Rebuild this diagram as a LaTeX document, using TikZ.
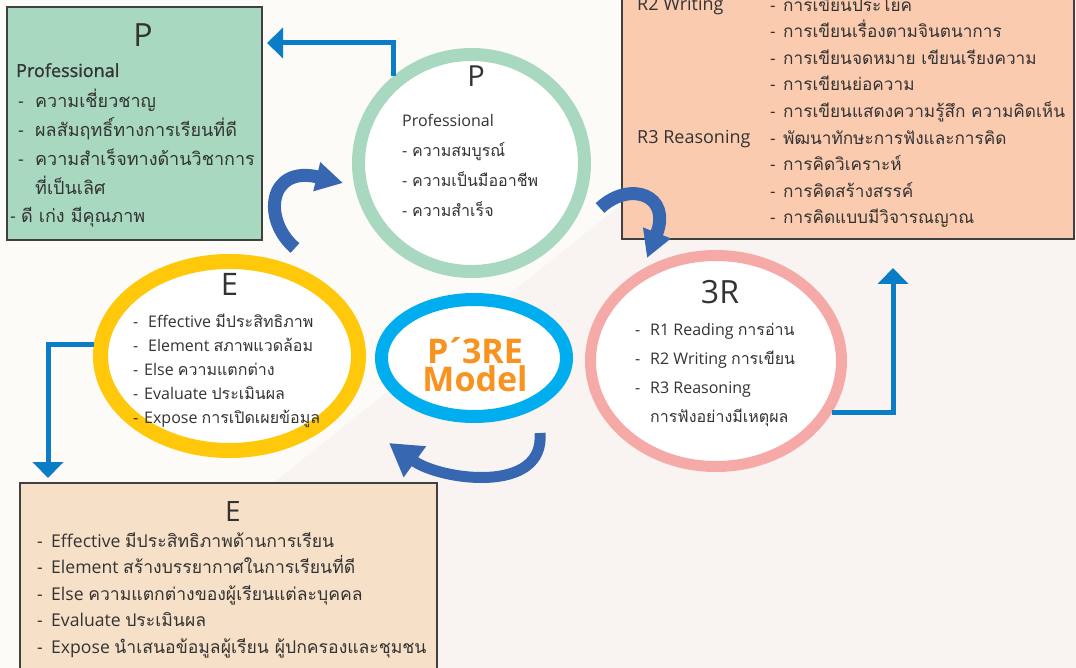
\documentclass[tikz,border=0pt]{standalone}
\usepackage{fontspec}
\setmainfont{Open Sans}
\newfontfamily\thaifont[Script=Thai]{Loma}
\newfontfamily\semifont[FakeBold=1.2]{Open Sans}
\usetikzlibrary{arrows.meta,shapes.geometric,positioning}

\definecolor{bgtop}{HTML}{FDFBF7}
\definecolor{bgbot}{HTML}{F9F4F1}
\definecolor{greenfill}{HTML}{A8D8C0}
\definecolor{peachfill}{HTML}{FBCBB0}
\definecolor{tanfill}{HTML}{F6E0C8}
\definecolor{ringgreen}{HTML}{A8D8C0}
\definecolor{ringyellow}{HTML}{FFC80B}
\definecolor{ringblue}{HTML}{00AEEF}
\definecolor{ringpink}{HTML}{F5AAA7}
\definecolor{flowblue}{HTML}{0A7DC6}
\definecolor{bendblue}{HTML}{3867B1}
\definecolor{modelorange}{HTML}{F7931E}
\definecolor{inkgray}{HTML}{333333}
\definecolor{boxline}{HTML}{404040}

\newcommand{\tha}[1]{{\thaifont #1}}
\newcommand{\itemdash}[1][17pt]{\makebox[#1][l]{-}}
\newcommand{\tightlines}{\lineskiplimit=-40pt\relax}

\tikzset{
  box/.style={draw=boxline, line width=1.4pt, inner sep=0pt},
  ring/.style={ellipse, fill=white, inner sep=0pt},
  headline/.style={anchor=base, inner sep=0pt, text=inkgray, font=\fontsize{#1}{#1}\selectfont},
  % lists are placed by the baseline of their last line
  listtext/.style 2 args={anchor=base west, align=left, inner sep=0pt, text=inkgray,
    font=\fontsize{#1}{#2}\selectfont\tightlines},
  flowarrow/.style={draw=flowblue, line width=5pt, -{Triangle[width=30pt,length=16pt]}},
  bendarrow/.style={draw=bendblue, line width=13pt, -{Triangle[width=28pt,length=27pt]}},
}

\begin{document}
\begin{tikzpicture}[x=1pt, y=-1pt]
  \useasboundingbox (0,0) rectangle (1076,668);
  % two soft background tones
  \fill[bgtop] (0,0) rectangle (1076,668);
  \fill[bgbot] (42,668) -- (877,0) -- (1076,0) -- (1076,668) -- cycle;

  % ---------------------------------------------------------------- boxes
  \node[box, fill=greenfill, minimum width=255pt, minimum height=233pt] (pbox) at (134.5,123.5) {};
  \node[box, fill=peachfill, minimum width=452pt, minimum height=259pt] (rbox) at (848,109.5) {};
  \node[box, fill=tanfill, minimum width=417pt, minimum height=217pt] (ebox) at (228.5,591.5) {};

  % ---------------------------------------------------------------- rings
  \node[ring, draw=ringgreen, line width=13pt, minimum width=226pt, minimum height=217pt] (pcirc) at (471.5,163) {};
  \node[ring, draw=ringyellow, line width=15pt, minimum width=258pt, minimum height=189pt] (eell) at (229.5,356) {};
  \node[ring, draw=ringblue, line width=13pt, minimum width=185pt, minimum height=117pt] (mell) at (474,358) {};
  \node[ring, draw=ringpink, line width=11pt, minimum width=251pt, minimum height=211pt] (rcirc) at (716,361) {};

  % ---------------------------------------------------------------- P box
  \node[headline=32] (pboxtitle) at (143,47) {P};
  \node[listtext={18}{28.8}] (pboxhead) at (16,77) {\semifont Professional};
  \node[listtext={18}{28.8}] (pboxlist) at (10,223) {%
    \hspace*{8pt}\itemdash\tha{ความเชี่ยวชาญ}\\
    \hspace*{8pt}\itemdash\tha{ผลสัมฤทธิ์ทางการเรียนที่ดี}\\
    \hspace*{8pt}\itemdash\tha{ความสำเร็จทางด้านวิชาการ}\\
    \hspace*{25pt}\tha{ที่เป็นเลิศ}\\
    \itemdash[11pt]\tha{ดี เก่ง มีคุณภาพ}};

  % ---------------------------------------------------------------- 3R box
  \node[listtext={18}{26.6}] (rboxw) at (637,11) {R2 Writing};
  \node[listtext={18}{26.6}] (rboxr) at (637,144) {R3 Reasoning};
  \node[listtext={17.2}{26.6}] (rboxlist) at (770,224) {%
    \itemdash[13pt]\tha{การเขียนประโยค}\\
    \itemdash[13pt]\tha{การเขียนเรื่องตามจินตนาการ}\\
    \itemdash[13pt]\tha{การเขียนจดหมาย เขียนเรียงความ}\\
    \itemdash[13pt]\tha{การเขียนย่อความ}\\
    \itemdash[13pt]\tha{การเขียนแสดงความรู้สึก ความคิดเห็น}\\
    \itemdash[13pt]\tha{พัฒนาทักษะการฟังและการคิด}\\
    \itemdash[13pt]\tha{การคิดวิเคราะห์}\\
    \itemdash[13pt]\tha{การคิดสร้างสรรค์}\\
    \itemdash[13pt]\tha{การคิดแบบมีวิจารณญาณ}};

  % ---------------------------------------------------------------- E box
  \node[headline=28] (eboxtitle) at (233,521) {E};
  \node[listtext={17.6}{26.5}] (eboxlist) at (37,653) {%
    \itemdash[14pt]Effective \tha{มีประสิทธิภาพด้านการเรียน}\\
    \itemdash[14pt]Element \tha{สร้างบรรยากาศในการเรียนที่ดี}\\
    \itemdash[14pt]Else \tha{ความแตกต่างของผู้เรียนแต่ละบุคคล}\\
    \itemdash[14pt]Evaluate \tha{ประเมินผล}\\
    \itemdash[14pt]Expose \tha{นำเสนอข้อมูลผู้เรียน ผู้ปกครองและชุมชน}};

  % ---------------------------------------------------------------- ring texts
  \node[headline=29] (pcirctitle) at (476,87) {P};
  \node[listtext={16}{30}] (pcirclist) at (402,217) {%
    Professional\\
    \itemdash[10pt]\tha{ความสมบูรณ์}\\
    \itemdash[10pt]\tha{ความเป็นมืออาชีพ}\\
    \itemdash[10pt]\tha{ความสำเร็จ}};

  \node[headline=31] (eelltitle) at (229.5,295) {E};
  \node[listtext={16}{24}] (eelllist) at (133,423) {%
    \itemdash[15pt]Effective \tha{มีประสิทธิภาพ}\\
    \itemdash[15pt]Element \tha{สภาพแวดล้อม}\\
    \itemdash[11pt]Else \tha{ความแตกต่าง}\\
    \itemdash[11pt]Evaluate \tha{ประเมินผล}\\
    \itemdash[11pt]Expose \tha{การเปิดเผยข้อมูล}};

  \node[headline=32] (rcirctitle) at (720,303) {3R};
  \node[listtext={16}{29}] (rcirclist) at (635,422) {%
    \itemdash[15pt]R1 Reading \tha{การอ่าน}\\
    \itemdash[15pt]R2 Writing \tha{การเขียน}\\
    \itemdash[15pt]R3 Reasoning\\
    \hspace*{15pt}\tha{การฟังอย่างมีเหตุผล}};

  \node[align=center, inner sep=0pt, text=modelorange,
        font=\fontsize{34}{28}\selectfont\bfseries] (mtext) at (475,365) {P\kern-3pt´\kern-4pt3RE\\Model};

  % ---------------------------------------------------------------- cycle arrows
  \draw[bendarrow] (295,248) .. controls (262,220) and (268,165) .. (343,183);
  \draw[bendarrow] (600,208) .. controls (630,180) and (672,195) .. (647,258);
  \draw[bendarrow, line width=11pt, -{Triangle[width=36pt,length=32pt]}]
    (540,433) .. controls (545,495) and (440,480) .. (389,443);

  % ---------------------------------------------------------------- flow arrows
  \coordinate (ptip) at (267,43);
  \coordinate (etip) at (48,478);
  \coordinate (rtip) at (893,268);
  \draw[flowarrow] (pcirc.132) |- (ptip);
  \draw[flowarrow] (eell.175) -| (etip);
  \draw[flowarrow] (rcirc.-24) -| (rtip);
\end{tikzpicture}
\end{document}
